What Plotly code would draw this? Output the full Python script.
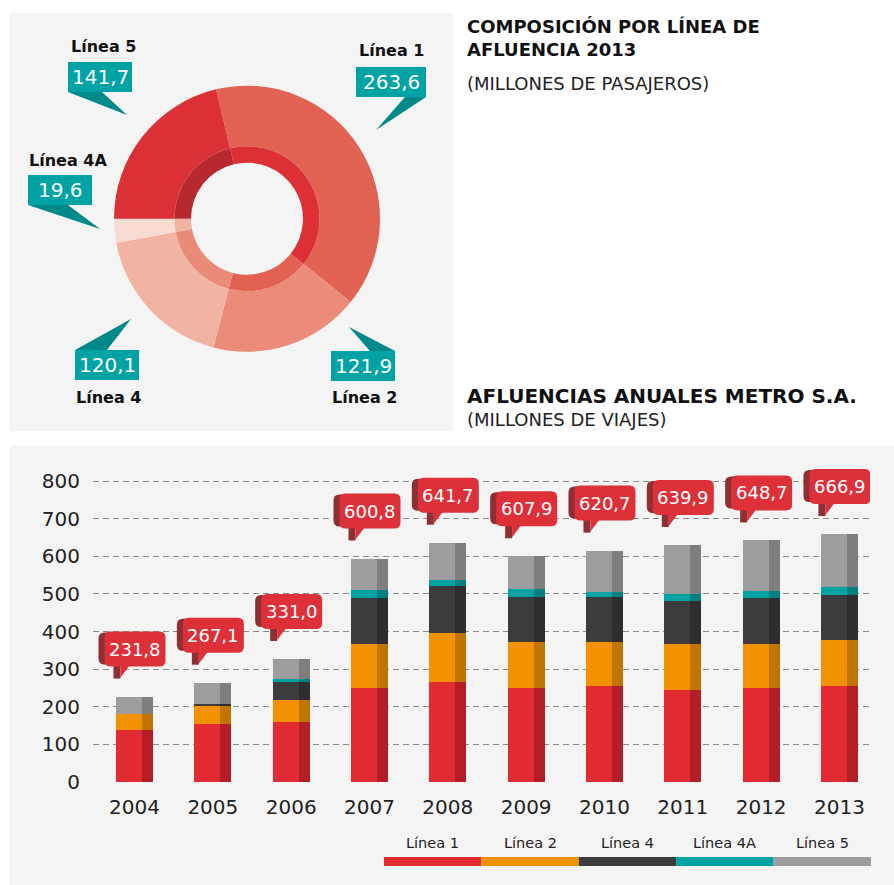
import plotly.graph_objects as go
import numpy as np

# ---------------- data ----------------
lines = ["Línea 1", "Línea 2", "Línea 4", "Línea 4A", "Línea 5"]
values_2013 = [263.6, 121.9, 120.1, 19.6, 141.7]

years = ["2004", "2005", "2006", "2007", "2008", "2009", "2010", "2011", "2012", "2013"]
linea1 = [139, 155, 160, 251, 267, 251, 256, 245, 251, 256]
linea2 = [43, 48, 58, 117, 130, 122, 117, 122, 117, 122]
linea4 = [0, 5, 48, 120, 125, 120, 120, 114, 120, 120]
linea4a = [0, 0, 8, 21, 16, 19, 13, 19, 19, 21]
linea5 = [45, 56, 53, 85, 98, 88, 109, 130, 135, 140]
totals = [231.8, 267.1, 331.0, 600.8, 641.7, 607.9, 620.7, 639.9, 648.7, 666.9]
y_ticks = [0, 100, 200, 300, 400, 500, 600, 700, 800]

# ---------------- styles ----------------
W, H = 894, 885
FONT = "DejaVu Sans"
outer_colors = ["#e26253", "#eb8b79", "#f1b4a3", "#f8dbd3", "#dc3037"]
inner_colors = ["#dd2f36", "#e26152", "#ea8a78", "#f1b2a2", "#b8282f"]
bar_light = ["#e22b33", "#f39200", "#3c3c3e", "#00a3a3", "#9d9d9f"]
bar_dark = ["#b41f27", "#c27400", "#2e2e30", "#008080", "#7d7e7e"]
TEAL = "#00a3a4"
TEAL_DARK = "#00898a"
BUB = "#dd3038"
BUB_DARK = "#8e2f33"


def X(px):
    return px / W


def Y(py):
    return 1 - py / H


def fmt(v):
    return f"{v:.1f}".replace(".", ",")


fig = go.Figure()
shapes = []
annotations = []

# panels
shapes.append(dict(type="rect", xref="paper", yref="paper", x0=X(10), x1=X(453), y0=Y(431), y1=Y(13),
                   fillcolor="#f4f4f4", line_width=0, layer="below"))
shapes.append(dict(type="rect", xref="paper", yref="paper", x0=X(10), x1=X(894), y0=Y(885), y1=Y(446),
                   fillcolor="#f4f4f4", line_width=0, layer="below"))

# ---------------- donut ----------------
cx, cy, R_out, R_mid, R_in = 247, 218.7, 133, 72.5, 56
fig.add_trace(go.Pie(labels=lines, values=values_2013, sort=False, direction="clockwise", rotation=-13.5,
                     hole=R_mid / R_out, marker=dict(colors=outer_colors, line=dict(width=0)),
                     textinfo="none", showlegend=False, automargin=False,
                     domain=dict(x=[X(cx - R_out), X(cx + R_out)], y=[Y(cy + R_out), Y(cy - R_out)])))
fig.add_trace(go.Pie(labels=lines, values=values_2013, sort=False, direction="clockwise", rotation=-13.5,
                     hole=R_in / R_mid, marker=dict(colors=inner_colors, line=dict(width=0)),
                     textinfo="none", showlegend=False, automargin=False,
                     domain=dict(x=[X(cx - R_mid), X(cx + R_mid)], y=[Y(cy + R_mid), Y(cy - R_mid)])))

# callouts (layout positions)
callouts = {
    "Línea 1": dict(box=(356, 67, 426, 97), tri=[(405, 97), (426, 97), (376, 130)], lab=(391, 51)),
    "Línea 2": dict(box=(331, 351, 395, 381), tri=[(370, 351), (395, 351), (349, 327)], lab=(364, 398)),
    "Línea 4": dict(box=(75, 350, 139, 380), tri=[(75, 350), (107, 350), (131, 319)], lab=(108, 397)),
    "Línea 4A": dict(box=(28, 175, 92, 205), tri=[(28, 205), (68, 205), (100, 229)], lab=(68, 160)),
    "Línea 5": dict(box=(68, 62, 132, 92), tri=[(68, 92), (102, 92), (127, 115)], lab=(103, 46)),
}
for name, val in zip(lines, values_2013):
    c = callouts[name]
    x0, y0, x1, y1 = c["box"]
    pts = c["tri"]
    path = "M " + " L ".join(f"{X(a):.5f},{Y(b):.5f}" for a, b in pts) + " Z"
    shapes.append(dict(type="path", xref="paper", yref="paper", path=path, fillcolor=TEAL_DARK, line_width=0))
    shapes.append(dict(type="rect", xref="paper", yref="paper", x0=X(x0), x1=X(x1), y0=Y(y1), y1=Y(y0),
                       fillcolor=TEAL, line_width=0))
    annotations.append(dict(xref="paper", yref="paper", x=X((x0 + x1) / 2), y=Y((y0 + y1) / 2),
                            text=fmt(val), showarrow=False, xanchor="center", yanchor="middle",
                            font=dict(family=FONT, size=20, color="white")))
    annotations.append(dict(xref="paper", yref="paper", x=X(c["lab"][0]), y=Y(c["lab"][1]),
                            text=f"<b>{name}</b>", showarrow=False, xanchor="center", yanchor="middle",
                            font=dict(family=FONT, size=16, color="#111111")))

# titles
annotations += [
    dict(xref="paper", yref="paper", x=X(465), y=Y(38.5), text="<b>COMPOSICIÓN POR LÍNEA DE<br>AFLUENCIA 2013</b>",
         showarrow=False, xanchor="left", yanchor="middle", align="left",
         font=dict(family=FONT, size=18, color="#111")),
    dict(xref="paper", yref="paper", x=X(465), y=Y(83), text="(MILLONES DE PASAJEROS)",
         showarrow=False, xanchor="left", yanchor="middle", font=dict(family=FONT, size=18, color="#222")),
    dict(xref="paper", yref="paper", x=X(465), y=Y(395.5), text="<b>AFLUENCIAS ANUALES METRO S.A.</b>",
         showarrow=False, xanchor="left", yanchor="middle", font=dict(family=FONT, size=20, color="#111")),
    dict(xref="paper", yref="paper", x=X(465), y=Y(419.5), text="(MILLONES DE VIAJES)",
         showarrow=False, xanchor="left", yanchor="middle", font=dict(family=FONT, size=18, color="#222")),
]

# ---------------- stacked bars ----------------
series = [linea1, linea2, linea4, linea4a, linea5]
idx = np.arange(len(years))
stack = np.array(series, dtype=float)
bases = np.vstack([np.zeros(len(years)), np.cumsum(stack, axis=0)[:-1]])
bar_tops = stack.sum(axis=0)

px_per_unit = 78.33
w_total = 37 / px_per_unit
w_light = 26 / px_per_unit
w_dark = w_total - w_light
for k, name in enumerate(lines):
    fig.add_trace(go.Bar(x=idx, y=stack[k], base=bases[k], offset=-w_total / 2, width=w_light,
                         marker=dict(color=bar_light[k], line=dict(width=0)), name=name, showlegend=False,
                         xaxis="x", yaxis="y"))
    fig.add_trace(go.Bar(x=idx, y=stack[k], base=bases[k], offset=-w_total / 2 + w_light, width=w_dark,
                         marker=dict(color=bar_dark[k], line=dict(width=0)), name=name, showlegend=False,
                         xaxis="x", yaxis="y"))


def rr(x0, y0, x1, y1, r):
    return (f"M {x0 + r},{y0} L {x1 - r},{y0} Q {x1},{y0} {x1},{y0 + r} L {x1},{y1 - r} "
            f"Q {x1},{y1} {x1 - r},{y1} L {x0 + r},{y1} Q {x0},{y1} {x0},{y1 - r} L {x0},{y0 + r} "
            f"Q {x0},{y0} {x0 + r},{y0} Z")


for i, top in enumerate(bar_tops):
    common = dict(type="path", xref="x", yref="y", xsizemode="pixel", ysizemode="pixel",
                  xanchor=float(i), yanchor=float(top), line_width=0, layer="above")
    shapes.append(dict(common, path=rr(-36, 32, 0, 64, 6), fillcolor=BUB_DARK))
    shapes.append(dict(common, path="M -21,31 L -14,31 L -14,18 L -21,18 Z", fillcolor=BUB_DARK))
    shapes.append(dict(common, path=rr(-30, 30, 31, 65, 6), fillcolor=BUB))
    shapes.append(dict(common, path="M -14,31 L -5,31 L -14,19 Z", fillcolor=BUB))
    annotations.append(dict(xref="x", yref="y", x=i + 0.006, y=top, yshift=47.5, text=fmt(totals[i]),
                            showarrow=False, xanchor="center", yanchor="middle",
                            font=dict(family=FONT, size=18, color="white")))

# ---------------- legend ----------------
lx0, lw = 384, 97.4
for k, name in enumerate(lines):
    shapes.append(dict(type="rect", xref="paper", yref="paper", x0=X(lx0 + k * lw), x1=X(lx0 + (k + 1) * lw),
                       y0=Y(866), y1=Y(857), fillcolor=bar_light[k], line_width=0))
    annotations.append(dict(xref="paper", yref="paper", x=X(lx0 + (k + 0.5) * lw), y=Y(843), text=name,
                            showarrow=False, xanchor="center", yanchor="middle",
                            font=dict(family=FONT, size=14.5, color="#222")))

# ---------------- axes ----------------
y_top_px = 450
y_max = (782 - y_top_px) / 0.37625
fig.update_layout(
    width=W, height=H, margin=dict(l=0, r=0, t=0, b=0, pad=0, autoexpand=False),
    paper_bgcolor="white", plot_bgcolor="rgba(0,0,0,0)", showlegend=False,
    barmode="overlay", bargap=0,
    xaxis=dict(domain=[X(93), X(870)], range=[-0.53, 9.39], tickvals=list(idx), ticktext=years,
               showgrid=False, zeroline=False, showline=False, ticks="", ticklabelstandoff=11,
               automargin=False,
               tickfont=dict(family=FONT, size=20, color="#222"), fixedrange=True),
    yaxis=dict(domain=[Y(782), Y(y_top_px)], range=[0, y_max], tickvals=y_ticks,
               showgrid=True, gridcolor="#8a8a8a", gridwidth=1.3, griddash="6px,4px",
               zeroline=True, zerolinecolor="#f4f4f4", zerolinewidth=2, showline=False, ticks="",
               automargin=False,
               ticklabelstandoff=12, tickfont=dict(family=FONT, size=20, color="#222"), fixedrange=True),
    shapes=shapes, annotations=annotations,
)

fig.write_html("out.html", config={"displayModeBar": False},
               post_script="document.body.style.margin='0px';")
